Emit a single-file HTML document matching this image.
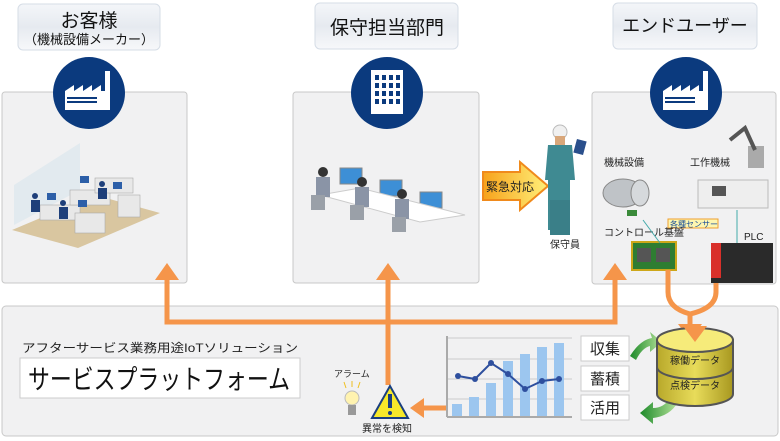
<!DOCTYPE html>
<html><head><meta charset="utf-8"><style>
body{margin:0;background:#fff;}
svg{display:block;font-family:"Liberation Sans","Noto Sans CJK JP",sans-serif;}
</style></head><body>
<svg width="780" height="441" viewBox="0 0 780 441" xmlns="http://www.w3.org/2000/svg">
<defs>
<linearGradient id="hd" x1="0" y1="0" x2="0" y2="1"><stop offset="0" stop-color="#f4f6f9"/><stop offset="0.5" stop-color="#e6eaf0"/><stop offset="1" stop-color="#f7f8fa"/></linearGradient>
<linearGradient id="ar" x1="0" y1="0" x2="1" y2="0"><stop offset="0" stop-color="#f7a21b"/><stop offset="1" stop-color="#fff07a"/></linearGradient>
<linearGradient id="db" x1="0" y1="0" x2="1" y2="0"><stop offset="0" stop-color="#b8a82a"/><stop offset="0.5" stop-color="#e8dc5a"/><stop offset="1" stop-color="#a89820"/></linearGradient>
<linearGradient id="gr" x1="0" y1="0" x2="1" y2="0"><stop offset="0" stop-color="#1d8a2a"/><stop offset="1" stop-color="#b6e39a"/></linearGradient>
</defs>
<!-- headers -->
<rect x="18" y="4" width="142" height="46" rx="5" fill="url(#hd)" stroke="#d6dde6"/>
<text x="89" y="27" font-size="19" text-anchor="middle" fill="#111">お客様</text>
<text x="89" y="44" font-size="13" text-anchor="middle" fill="#111">（機械設備メーカー）</text>
<rect x="315" y="3" width="143" height="46" rx="5" fill="url(#hd)" stroke="#d6dde6"/>
<text x="387" y="34" font-size="19" text-anchor="middle" fill="#111">保守担当部門</text>
<rect x="613" y="3" width="144" height="46" rx="5" fill="url(#hd)" stroke="#d6dde6"/>
<text x="685" y="32" font-size="18" text-anchor="middle" fill="#111">エンドユーザー</text>
<!-- panels -->
<rect x="2" y="92" width="185" height="191" rx="3" fill="#f1f1f2" stroke="#c8c8c8"/>
<rect x="293" y="92" width="186" height="191" rx="3" fill="#f1f1f2" stroke="#c8c8c8"/>
<rect x="592" y="92" width="184" height="192" rx="3" fill="#f1f1f2" stroke="#c8c8c8"/>
<rect x="2" y="306" width="776" height="130" rx="4" fill="#f1f1f2" stroke="#c8c8c8"/>
<!-- circles -->
<g fill="#0b3a7e"><circle cx="89" cy="93" r="36"/><circle cx="387" cy="93" r="36"/><circle cx="686" cy="93" r="36"/></g>
<g fill="#fff">
<path d="M65 110 V91 L74 85 V91 L83 85 V91 L92 85 V91 L101 85 V91 L105 91 V71 L110 71 V110 Z"/>
<path d="M663 110 V91 L672 85 V91 L681 85 V91 L690 85 V91 L699 85 V91 L703 91 V71 L708 71 V110 Z"/>
<rect x="371" y="70" width="32" height="44"/>
</g>
<g fill="#0b3a7e"><rect x="67" y="97" width="30" height="2"/><rect x="67" y="101" width="30" height="2"/><rect x="665" y="97" width="30" height="2"/><rect x="665" y="101" width="30" height="2"/></g>
<g fill="#0b3a7e">
<rect x="375" y="75" width="4" height="5"/><rect x="382" y="75" width="4" height="5"/><rect x="389" y="75" width="4" height="5"/><rect x="396" y="75" width="4" height="5"/>
<rect x="375" y="83" width="4" height="5"/><rect x="382" y="83" width="4" height="5"/><rect x="389" y="83" width="4" height="5"/><rect x="396" y="83" width="4" height="5"/>
<rect x="375" y="91" width="4" height="5"/><rect x="382" y="91" width="4" height="5"/><rect x="389" y="91" width="4" height="5"/><rect x="396" y="91" width="4" height="5"/>
<rect x="375" y="99" width="4" height="5"/><rect x="382" y="99" width="4" height="5"/><rect x="389" y="99" width="4" height="5"/><rect x="396" y="99" width="4" height="5"/>
</g>
<!-- office illustration 1 -->
<polygon points="12,230 95,195 160,213 78,248" fill="#d9c6a0"/>
<polygon points="14,185 80,143 80,190 14,225" fill="#dfe8ee" opacity="0.8"/>
<g fill="#e8e8e8" stroke="#aaa" stroke-width="0.6">
<rect x="40" y="205" width="40" height="15"/><rect x="70" y="190" width="40" height="15"/><rect x="95" y="178" width="38" height="15"/><rect x="75" y="213" width="30" height="20"/><rect x="118" y="195" width="22" height="22"/>
</g>
<g fill="#2d5fa8"><rect x="47" y="193" width="9" height="7"/><rect x="78" y="200" width="9" height="7"/><rect x="113" y="182" width="9" height="7"/><rect x="80" y="176" width="9" height="7"/></g>
<g fill="#1e3f7a"><circle cx="35" cy="196" r="3"/><rect x="31" y="200" width="9" height="12"/><circle cx="63" cy="203" r="3"/><rect x="59" y="207" width="9" height="12"/><circle cx="102" cy="184" r="3"/><rect x="98" y="188" width="9" height="11"/></g>
<!-- operators 2 -->
<g>
<rect x="340" y="168" width="22" height="16" fill="#3d8fd6" stroke="#888"/><rect x="380" y="180" width="22" height="16" fill="#3d8fd6" stroke="#888"/><rect x="420" y="192" width="22" height="16" fill="#3d8fd6" stroke="#888"/>
<polygon points="320,195 420,222 465,215 360,188" fill="#fff" stroke="#ccc"/>
<g fill="#333"><circle cx="323" cy="172" r="5"/><circle cx="362" cy="182" r="5"/><circle cx="402" cy="194" r="5"/></g>
<g fill="#8a94a6"><rect x="316" y="177" width="14" height="20"/><rect x="355" y="187" width="14" height="20"/><rect x="395" y="199" width="14" height="20"/></g>
<g fill="#9aa0a8"><rect x="311" y="195" width="14" height="15"/><rect x="350" y="205" width="14" height="15"/><rect x="392" y="217" width="14" height="15"/></g>
</g>
<!-- emergency arrow -->
<path d="M483 172 H520 V162 L548 186 L520 210 V200 H483 Z" fill="url(#ar)" stroke="#f08a1c" stroke-width="2"/>
<text x="486" y="191" font-size="12" fill="#222">緊急対応</text>
<!-- worker -->
<g>
<circle cx="560" cy="132" r="7" fill="#f0f0f0" stroke="#bbb"/>
<rect x="555" y="136" width="10" height="9" fill="#d9a77a"/>
<path d="M548 145 H572 L575 180 H570 V230 H548 V180 H545 Z" fill="#3f8a92"/>
<rect x="550" y="200" width="20" height="35" fill="#3a7f88"/>
<rect x="575" y="140" width="10" height="14" fill="#2a4f8c" transform="rotate(15 580 147)"/>
<text x="565" y="248" font-size="10" text-anchor="middle" fill="#222">保守員</text>
</g>
<!-- end user illustrations -->
<text x="604" y="166" font-size="10" fill="#222">機械設備</text>
<text x="690" y="166" font-size="10" fill="#222">工作機械</text>
<ellipse cx="623" cy="193" rx="20" ry="14" fill="#bfc3c7" stroke="#888"/>
<ellipse cx="640" cy="193" rx="9" ry="13" fill="#d6d9dc" stroke="#888"/>
<rect x="627" y="210" width="10" height="6" fill="#3a8a3a"/>
<rect x="698" y="180" width="70" height="28" fill="#eee" stroke="#bbb"/>
<rect x="712" y="186" width="14" height="10" fill="#555"/>
<rect x="748" y="146" width="16" height="22" fill="#aaa"/>
<path d="M730 140 L745 128 L755 150" stroke="#555" stroke-width="4" fill="none"/>
<rect x="668" y="219" width="50" height="9" fill="#fdf6b0" stroke="#f0a030"/>
<text x="670" y="227" font-size="8" fill="#1a4f9a">各種センサー</text>
<text x="604" y="236" font-size="10" fill="#222">コントロール基盤</text>
<text x="744" y="240" font-size="10" fill="#222">PLC</text>
<rect x="632" y="242" width="44" height="28" fill="#2e7d32" stroke="#cda71a" stroke-width="2"/>
<rect x="637" y="248" width="14" height="14" fill="#555"/><rect x="656" y="248" width="14" height="14" fill="#555"/>
<rect x="711" y="243" width="62" height="40" fill="#2a2a2a"/><rect x="711" y="243" width="10" height="35" fill="#d9302a"/>
<line x1="643" y1="220" x2="660" y2="243" stroke="#4aa" stroke-width="1"/><line x1="737" y1="210" x2="737" y2="243" stroke="#4aa" stroke-width="1"/>
<!-- orange connectors -->
<g stroke="#f5954a" stroke-width="5" fill="none">
<path d="M167 278 V322 H615 V278"/>
<path d="M388 278 V385"/>
<path d="M668 270 V292 Q668 308 690 314 L690 326 M716 283 V292 Q716 308 690 314"/>
<path d="M447 408 H420"/>
</g>
<g fill="#f5954a">
<polygon points="155,280 167,263 179,280"/><polygon points="376,280 388,263 400,280"/><polygon points="603,280 615,263 627,280"/>
<polygon points="678,324 702,324 690,340"/>
<polygon points="424,398 424,418 410,408"/>
</g>
<!-- bottom texts -->
<text x="22" y="352" font-size="12" fill="#222" textLength="276" lengthAdjust="spacingAndGlyphs">アフターサービス業務用途IoTソリューション</text>
<rect x="20" y="358" width="280" height="40" fill="#fff" stroke="#ccc"/>
<text x="28" y="389" font-size="27" fill="#111" textLength="262" lengthAdjust="spacingAndGlyphs">サービスプラットフォーム</text>
<text x="334" y="377" font-size="9" fill="#222">アラーム</text>
<g stroke="#f0c020" stroke-width="1"><line x1="344" y1="382" x2="346" y2="388"/><line x1="352" y1="381" x2="352" y2="387"/><line x1="360" y1="382" x2="358" y2="388"/></g>
<circle cx="352" cy="398" r="7" fill="#fff3b0" stroke="#bbb"/>
<rect x="348" y="405" width="8" height="10" fill="#999"/>
<polygon points="390,386 372,418 408,418" fill="#f7e92a" stroke="#1a3f80" stroke-width="2"/>
<rect x="388" y="394" width="4" height="14" fill="#1a3f80"/><circle cx="390" cy="413" r="2" fill="#1a3f80"/>
<text x="362" y="432" font-size="10" fill="#222">異常を検知</text>
<!-- chart -->
<g stroke="#ccc" stroke-width="1"><line x1="447" y1="359" x2="572" y2="359"/><line x1="447" y1="379" x2="572" y2="379"/><line x1="447" y1="399" x2="572" y2="399"/><line x1="447" y1="338" x2="572" y2="338"/></g>
<g fill="#9cc6ef"><rect x="452" y="404" width="10" height="12"/><rect x="469" y="397" width="10" height="19"/><rect x="486" y="383" width="10" height="33"/><rect x="503" y="361" width="10" height="55"/><rect x="520" y="354" width="10" height="62"/><rect x="537" y="347" width="10" height="69"/><rect x="554" y="343" width="10" height="73"/></g>
<g stroke="#aaa" stroke-width="2"><line x1="447" y1="336" x2="447" y2="417"/><line x1="447" y1="417" x2="572" y2="417"/></g>
<polyline points="458,376 475,379 491,363 508,374 525,389 542,381 559,379" fill="none" stroke="#2e4f9e" stroke-width="2"/>
<g fill="#2e4f9e"><circle cx="458" cy="376" r="3"/><circle cx="475" cy="379" r="3"/><circle cx="491" cy="363" r="3"/><circle cx="508" cy="374" r="3"/><circle cx="525" cy="389" r="3"/><circle cx="542" cy="381" r="3"/><circle cx="559" cy="379" r="3"/></g>
<g fill="#fff" stroke="#ccc"><rect x="581" y="336" width="48" height="25"/><rect x="581" y="366" width="48" height="25"/><rect x="581" y="395" width="48" height="25"/></g>
<g font-size="15" fill="#222" text-anchor="middle"><text x="605" y="354">収集</text><text x="605" y="384">蓄積</text><text x="605" y="413">活用</text></g>
<!-- green arrows -->
<path d="M630 356 Q640 340 652 338 L650 332 L662 342 L650 352 L650 346 Q642 348 636 360 Z" fill="url(#gr)"/>
<path d="M680 402 Q672 416 655 418 L655 424 L642 413 L655 402 L655 408 Q666 408 672 398 Z" fill="url(#gr)" transform="translate(-2 0)"/>
<!-- database -->
<path d="M657 340 V394 A38 12 0 0 0 733 394 V340 Z" fill="url(#db)" stroke="#555" stroke-width="2"/>
<path d="M657 367 A38 12 0 0 0 733 367" fill="none" stroke="#555" stroke-width="2"/>
<ellipse cx="695" cy="340" rx="38" ry="12" fill="#f6eb7a" stroke="#555" stroke-width="2"/>
<polygon points="683,326 707,326 695,342" fill="#f5954a"/>
<text x="695" y="364" font-size="10" text-anchor="middle" fill="#222">稼働データ</text>
<text x="695" y="389" font-size="10" text-anchor="middle" fill="#222">点検データ</text>
</svg>
</body></html>
